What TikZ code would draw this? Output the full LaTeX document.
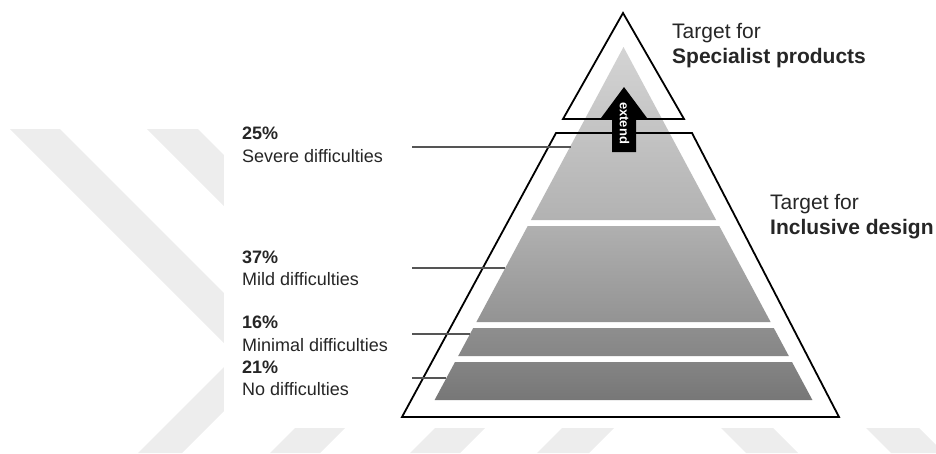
\documentclass[tikz,border=0pt]{standalone}
\usepackage{fontspec}
\setmainfont{Liberation Sans}
\definecolor{wm}{HTML}{EDEDED}
\definecolor{txt}{HTML}{262626}
\definecolor{lead}{HTML}{555555}
\definecolor{gA}{HTML}{D4D4D4}
\definecolor{gB}{HTML}{B2B2B2}
\definecolor{gC}{HTML}{B0B0B0}
\definecolor{gD}{HTML}{939393}
\definecolor{gE}{HTML}{8E8E8E}
\definecolor{gF}{HTML}{868686}
\definecolor{gG}{HTML}{848484}
\definecolor{gH}{HTML}{777777}
\tikzset{
  stripe/.style={fill=wm, draw=none},
  outline/.style={draw=black, line width=1.8pt, line join=miter},
  leader/.style={draw=lead, line width=1.2pt},
  lefttxt/.style={anchor=base west, inner sep=0pt, text=txt, font=\fontsize{18}{21}\selectfont},
  leftpct/.style={lefttxt, font=\fontsize{18}{21}\selectfont\bfseries},
  righttxt/.style={anchor=base west, inner sep=0pt, text=txt, font=\fontsize{21}{25}\selectfont},
  rightbold/.style={righttxt, font=\fontsize{21}{25}\selectfont\bfseries},
}
\begin{document}
\begin{tikzpicture}[x=1pt,y=-1pt]
\useasboundingbox (0,0) rectangle (936,453);
% watermark stripes
\fill[stripe] (10,129) -- (60,129) -- (224,293) -- (224,343) -- cycle;
\fill[stripe] (147,129) -- (198,129) -- (224,155) -- (224,206) -- cycle;
\fill[stripe] (138,453) -- (182,453) -- (224,411) -- (224,367) -- cycle;
\fill[stripe] (270,453) -- (320,453) -- (345,428) -- (295,428) -- cycle;
\fill[stripe] (410,453) -- (460,453) -- (485,428) -- (435,428) -- cycle;
\fill[stripe] (537,453) -- (589,453) -- (614,428) -- (562,428) -- cycle;
\fill[stripe] (721,428) -- (773,428) -- (798,453) -- (746,453) -- cycle;
\fill[stripe] (866,428) -- (919,428) -- (944,453) -- (891,453) -- cycle;
\fill[white] (224,0) rectangle (936,428);
% gray pyramid bands
\shade[top color=gA, bottom color=gB] (623.5,47) -- (716.1,220) -- (530.9,220) -- cycle;
\shade[top color=gC, bottom color=gD] (527.7,226) -- (719.3,226) -- (770.6,322) -- (476.4,322) -- cycle;
\shade[top color=gE, bottom color=gF] (473.2,328) -- (773.8,328) -- (788.8,356) -- (458.2,356) -- cycle;
\shade[top color=gG, bottom color=gH] (455,362) -- (792,362) -- (812.4,400) -- (434.6,400) -- cycle;
% outlines
\draw[outline] (623,13) -- (684,119) -- (563,119) -- cycle;
\draw[outline] (556,133) -- (692,133) -- (839,417) -- (402,417) -- cycle;
% leader lines
\coordinate (s1) at (412,147); \coordinate (e1) at (570.5,147);
\coordinate (s2) at (412,268); \coordinate (e2) at (505.3,268);
\coordinate (s3) at (412,334); \coordinate (e3) at (470,334);
\coordinate (s4) at (412,378); \coordinate (e4) at (446.4,378);
\draw[leader] (s1) -- (e1);
\draw[leader] (s2) -- (e2);
\draw[leader] (s3) -- (e3);
\draw[leader] (s4) -- (e4);
% extend arrow
\fill[black] (612,152) -- (636,152) -- (636,118) -- (647,118) -- (624,87) -- (601,118) -- (612,118) -- cycle;
\node[rotate=-90, text=white, font=\fontsize{13}{13}\selectfont\bfseries, inner sep=0pt] (ext) at (624.5,123) {extend};
% left labels
\node[leftpct] (p1) at (242,139) {25\%};
\node[lefttxt] (l1) at (242,162) {Severe difficulties};
\node[leftpct] (p2) at (242,263) {37\%};
\node[lefttxt] (l2) at (242,285) {Mild difficulties};
\node[leftpct] (p3) at (242,328) {16\%};
\node[lefttxt] (l3) at (242,351) {Minimal difficulties};
\node[leftpct] (p4) at (242,373) {21\%};
\node[lefttxt] (l4) at (242,395) {No difficulties};
% right labels
\node[righttxt] (t1) at (672,38) {Target for};
\node[rightbold] (t1b) at (672,63) {Specialist products};
\node[righttxt] (t2) at (770,209) {Target for};
\node[rightbold] (t2b) at (770,234) {Inclusive design};
\end{tikzpicture}
\end{document}
